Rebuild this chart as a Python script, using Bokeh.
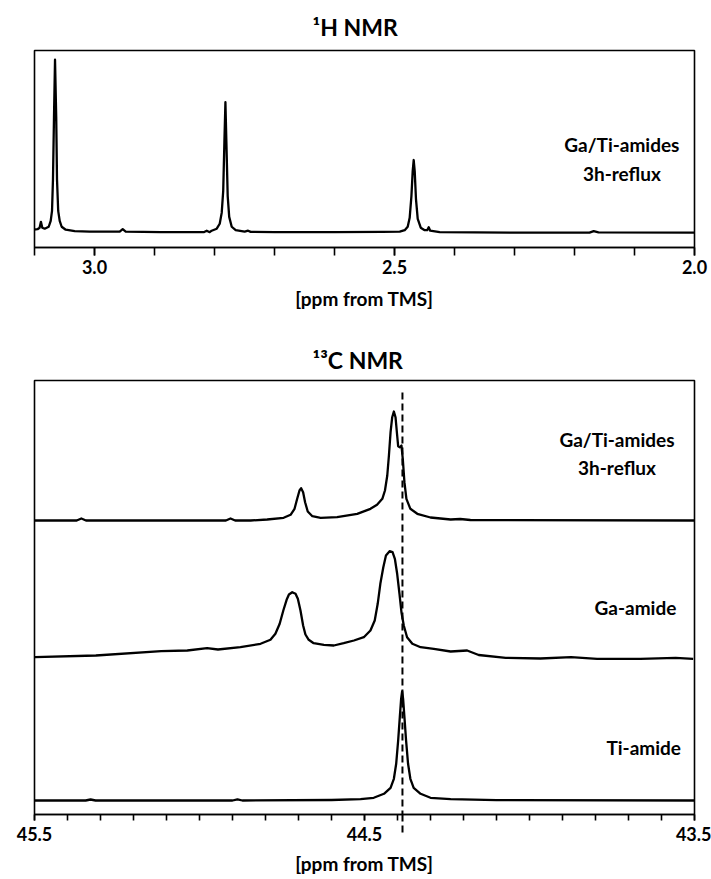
from bokeh.plotting import figure
from bokeh.layouts import column
from bokeh.models import Range1d, FixedTicker, NumeralTickFormatter, Label, Arrow, LinearAxis
from bokeh.embed import file_html
from bokeh.resources import INLINE

FONT = "Lato"

# ---------------- 1H NMR trace (ppm, intensity a.u.) ----------------
h_ppm = [3.101, 3.095, 3.0915, 3.0893, 3.087, 3.083, 3.0763, 3.073, 3.0708, 3.0692,
         3.0675, 3.0658, 3.0638, 3.0625, 3.0605, 3.058, 3.0547, 3.048, 3.033, 3.008,
         2.958, 2.953, 2.948, 2.89, 2.818, 2.813, 2.808, 2.8047, 2.7963, 2.7913,
         2.788, 2.7855, 2.7835, 2.7818, 2.7802, 2.778, 2.7755, 2.7713, 2.7647, 2.7497,
         2.744, 2.7397, 2.70, 2.60, 2.52, 2.4913, 2.483, 2.478, 2.4747, 2.4718,
         2.4697, 2.468, 2.4663, 2.4642, 2.4613, 2.4563, 2.4497, 2.4455, 2.443, 2.4405,
         2.4247, 2.30, 2.175, 2.168, 2.16, 2.0]
h_int = [3, 3.5, 5, 11, 5, 4, 6, 12, 22, 54,
         117, 175, 117, 54, 22, 12, 6, 3, 1.5, 1,
         1, 3.5, 1, 0.5, 0.5, 2, 0.5, 2, 4, 9,
         20, 42, 92, 132, 92, 37, 16, 6, 2.5, 1,
         2, 0.8, 0.5, 0.5, 0.8, 1, 2.5, 6, 15, 37,
         62, 73.5, 62, 34, 14, 5, 2.5, 2.5, 5.5, 2,
         0.5, 0, 0, 1.5, 0.3, 0]

# ---------------- 13C NMR traces ----------------
# Ga/Ti-amides 3h-reflux
mix_ppm = [45.5, 45.372, 45.358, 45.344, 45.0, 44.92, 44.906, 44.892, 44.845, 44.795,
           44.745, 44.724, 44.712, 44.704, 44.697, 44.692, 44.686, 44.680, 44.672, 44.658,
           44.633, 44.583, 44.522, 44.482, 44.462, 44.446, 44.438, 44.431, 44.426, 44.421,
           44.416, 44.411, 44.406, 44.401, 44.398, 44.393, 44.388, 44.384, 44.379, 44.373,
           44.361, 44.340, 44.300, 44.239, 44.210, 44.179, 43.5]
mix_int = [0, 0, 2, 0, 0, 0, 2, 0, 0, 1,
           2.7, 5.7, 11.7, 21.7, 30, 32.3, 28.3, 18.3, 9, 4.3,
           2.7, 3.3, 6.7, 11.7, 15.7, 21.7, 30, 45, 65, 88.3,
           103.3, 109, 103.3, 85, 74.3, 73.3, 75, 61.7, 38.3, 21.7,
           11.7, 6.7, 3, 1, 1.5, 0.5, 0]

# Ga-amide
ga_ppm = [45.499, 45.314, 45.116, 45.037, 44.977, 44.944, 44.876, 44.815, 44.785, 44.770,
          44.757, 44.746, 44.736, 44.729, 44.719, 44.709, 44.702, 44.694, 44.686, 44.679,
          44.669, 44.654, 44.623, 44.593, 44.563, 44.532, 44.502, 44.482, 44.469, 44.460,
          44.452, 44.443, 44.435, 44.424, 44.415, 44.408, 44.401, 44.394, 44.388, 44.381,
          44.371, 44.355, 44.330, 44.290, 44.239, 44.189, 44.154, 44.072, 43.967, 43.874,
          43.795, 43.664, 43.557, 43.504]
ga_int = [0.3, 2, 6.3, 7, 9.3, 8, 10.3, 13.7, 17.7, 23.7,
          33.7, 47, 57.7, 63, 65.3, 63.7, 58.7, 47, 32, 23,
          17.7, 14.3, 12.7, 12, 14.3, 17, 20.3, 27, 37, 53.7,
          73.7, 90.3, 102, 106.3, 105.3, 98.7, 83.7, 63.7, 45.3, 32,
          20.3, 13.7, 10.3, 8.7, 6, 7, 2.5, -0.3, -1, 0.3,
          -1.3, -1.3, -0.3, -1.3]

# Ti-amide
ti_ppm = [45.5, 45.345, 45.33, 45.315, 44.9, 44.885, 44.87, 44.6, 44.512, 44.472,
          44.441, 44.421, 44.411, 44.404, 44.398, 44.393, 44.389, 44.386, 44.383, 44.379,
          44.374, 44.368, 44.361, 44.351, 44.330, 44.300, 44.239, 44.1, 43.5]
ti_int = [0, 0, 1, 0, 0, 1.2, 0, 0.5, 1.3, 2.7,
          6.7, 12.7, 21.7, 36.7, 60, 83.3, 101.7, 109, 101.7, 83.3,
          60, 36.7, 21.7, 12.7, 6.7, 2.7, 1.3, 0.3, 0]

ref_line_ppm = 44.385

h_major = [3.0, 2.5, 2.0]
h_minor = [3.1, 3.0, 2.9, 2.8, 2.7, 2.6, 2.5, 2.4, 2.3, 2.2, 2.1, 2.0]
c_major = [45.5, 44.5, 43.5]
c_minor = [45.5, 45.4, 45.3, 45.2, 45.1, 45.0, 44.9, 44.8, 44.7, 44.6, 44.5,
           44.4, 44.3, 44.2, 44.1, 44.0, 43.9, 43.8, 43.7, 43.6, 43.5]

# vertical stacking offsets of the 13C traces
offsets = {"ti": 0, "ga": 143, "mix": 280}

LW = 2.3


def make_fig(title, xr, yr, height, top, bottom, major, minor, tick_len,
             label_standoff, axis_label_standoff, title_offset, title_standoff):
    p = figure(width=711, height=height, x_range=Range1d(*xr), y_range=Range1d(*yr),
               output_backend="svg", toolbar_location=None, y_axis_location=None,
               min_border_left=34, min_border_right=17, min_border_top=top,
               min_border_bottom=bottom, title=title)
    p.title.text_font = FONT
    p.title.text_font_style = "bold"
    p.title.text_font_size = "23px"
    p.title.align = "left"
    p.title.offset = title_offset
    p.title.standoff = title_standoff
    p.title.text_color = "black"
    p.grid.visible = False
    p.outline_line_color = "black"
    p.outline_line_width = 1.6
    p.outline_line_alpha = 1
    ax = p.xaxis[0]
    ax.ticker = FixedTicker(ticks=major, minor_ticks=minor)
    ax.formatter = NumeralTickFormatter(format="0.0")
    ax.axis_label = "[ppm from TMS]"
    ax.axis_label_text_font = FONT
    ax.axis_label_text_font_style = "bold"
    ax.axis_label_text_font_size = "19px"
    ax.axis_label_text_color = "black"
    ax.axis_label_standoff = axis_label_standoff
    ax.major_label_text_font = FONT
    ax.major_label_text_font_style = "bold"
    ax.major_label_text_font_size = "18px"
    ax.major_label_text_color = "black"
    ax.major_label_standoff = label_standoff
    ax.axis_line_width = 1.6
    ax.axis_line_color = "black"
    ax.major_tick_in = 0
    ax.minor_tick_in = 0
    ax.major_tick_out = tick_len
    ax.minor_tick_out = tick_len
    ax.major_tick_line_width = 1.6
    ax.minor_tick_line_width = 1.6
    ax.major_tick_line_color = "black"
    ax.minor_tick_line_color = "black"
    p.background_fill_color = "white"
    p.border_fill_color = "white"
    return p


def add_label(p, x, y, text):
    p.add_layout(Label(x=x, y=y, text=text, text_align="center", text_baseline="middle",
                       text_font=FONT, text_font_style="bold", text_font_size="19px",
                       text_color="black"))


# ---- top panel: 1H ----
p1 = make_fig("\u00b9H NMR", (3.1, 2.0), (-15, 184.3), 322, 48, 75, h_major, h_minor, 8,
              4, 10, 278, 20)
p1.line(h_ppm, h_int, line_color="black", line_width=LW, line_join="round")
add_label(p1, 2.121, 88.7, "Ga/Ti-amides")
add_label(p1, 2.121, 60.3, "3h-reflux")

# ---- bottom panel: 13C ----
p2 = make_fig("\u00b9\u00b3C NMR", (45.5, 43.5), (-14, 420), 557, 58, 65, c_major, c_minor, 6,
              6, 8, 278, 14)
p2.line(mix_ppm, [v + offsets["mix"] for v in mix_int], line_color="black", line_width=LW,
        line_join="round")
p2.line(ga_ppm, [v + offsets["ga"] for v in ga_int], line_color="black", line_width=LW,
        line_join="round")
p2.line(ti_ppm, [v + offsets["ti"] for v in ti_int], line_color="black", line_width=LW,
        line_join="round")
p2.add_layout(Arrow(end=None, x_start=ref_line_ppm, y_start=408, x_end=ref_line_ppm, y_end=-14,
                    line_color="black", line_width=2, line_dash="7 4"))

# continuation of the dashed reference line below the axis (tick of a bare axis, no labels)
dash_ax = LinearAxis(ticker=FixedTicker(ticks=[ref_line_ppm], minor_ticks=[]),
                     axis_line_color=None, major_tick_in=-21, major_tick_out=0,
                     minor_tick_in=0, minor_tick_out=0, minor_tick_line_color=None,
                     major_tick_line_color="black", major_tick_line_width=2,
                     major_tick_line_dash="7 4", major_label_text_font_size="1px",
                     major_label_text_color=None, major_label_standoff=0)
p2.below = [dash_ax] + list(p2.below)

add_label(p2, 43.735, 361, "Ga/Ti-amides")
add_label(p2, 43.735, 333, "3h-reflux")
add_label(p2, 43.679, 193, "Ga-amide")
add_label(p2, 43.654, 53, "Ti-amide")

layout = column(p1, p2, spacing=0)
open("out.html", "w").write(file_html(layout, INLINE))
